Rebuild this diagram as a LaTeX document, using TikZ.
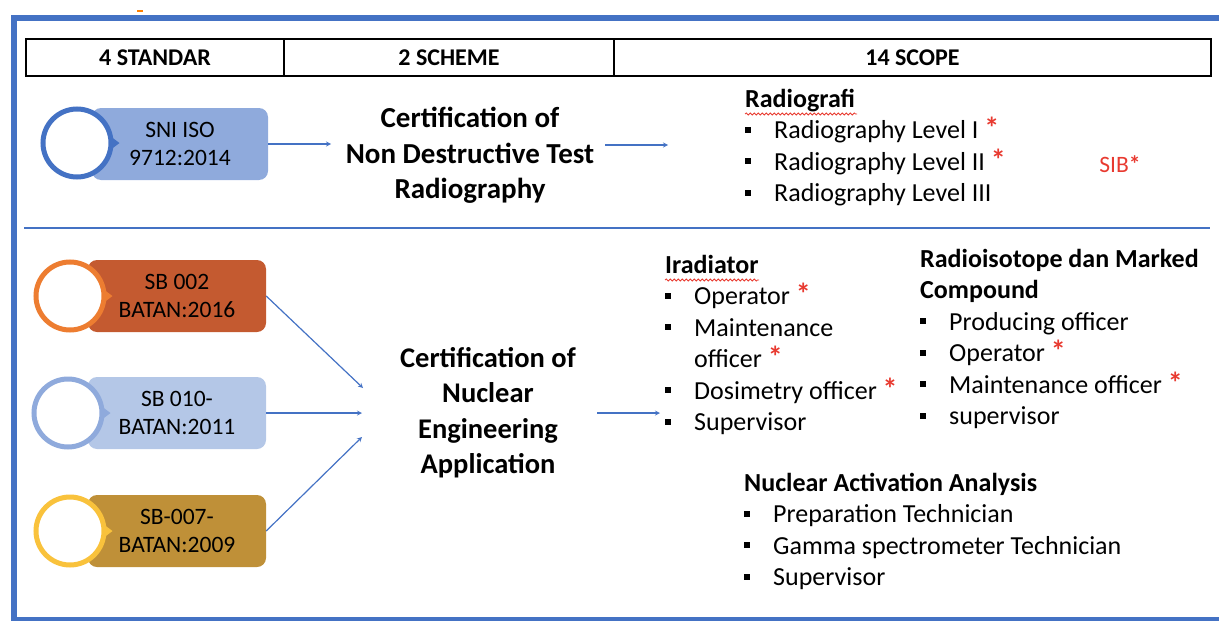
\documentclass[tikz,border=0pt]{standalone}
\usepackage{fontspec}
\setmainfont{Carlito}
\usetikzlibrary{shapes.geometric, arrows, calc, positioning, decorations.pathmorphing}
\definecolor{frameblue}{HTML}{4472C4}
\definecolor{snifill}{HTML}{8FAADC}
\definecolor{sbofill}{HTML}{C45A30}
\definecolor{sboring}{HTML}{ED7D31}
\definecolor{sblfill}{HTML}{B4C7E7}
\definecolor{sblring}{HTML}{8FAADC}
\definecolor{sbgfill}{HTML}{BF9038}
\definecolor{sbgring}{HTML}{F9C23C}
\definecolor{astred}{HTML}{E83A30}
\tikzstyle{hcell} = [rectangle, draw=black, line width=1.6pt, minimum height=37pt, font=\fontsize{24}{28}\selectfont\bfseries]
\tikzstyle{stdbox} = [rectangle, rounded corners=9pt, minimum width=178pt, minimum height=72pt, align=center, font=\fontsize{23.5}{27.5}\selectfont]
\tikzstyle{ring} = [circle, minimum size=68pt, line width=5pt, fill=white, inner sep=0pt]
\tikzstyle{scheme} = [align=center, font=\fontsize{28.5}{35.5}\selectfont\bfseries]
\tikzstyle{scope} = [align=left, inner sep=0pt, anchor=north west, font=\fontsize{26}{31.5}\selectfont]
\tikzstyle{arrow} = [line width=1.2pt, ->, >=stealth, draw=frameblue]
\tikzstyle{wavy} = [astred, line width=0.8pt, decorate, decoration={snake, amplitude=1pt, segment length=4pt}]
\newcommand{\bl}{\makebox[29pt][l]{\rule[6pt]{6pt}{6pt}}}
\newcommand{\rst}{\textcolor{astred}{\fontsize{30}{30}\selectfont\bfseries *}}

\begin{document}
\begin{tikzpicture}[x=1pt, y=-1pt]
    \useasboundingbox (0,0) rectangle (1219,621);
    % frame
    \draw[frameblue, line width=6pt] (1219,18) -- (14,18) -- (14,620) -- (1219,620);
    \draw[orange, line width=2pt] (137,11) -- (143,11);
    \draw[frameblue, line width=1.5pt] (24,228) -- (1210,228);

    % header
    \node (hstd) [hcell, minimum width=258pt] at (155,57.5) {4 STANDAR};
    \node (hsch) [hcell, minimum width=330pt] at (449,57.5) {2 SCHEME};
    \node (hscp) [hcell, minimum width=597pt] at (912.5,57.5) {14 SCOPE};

    % standar
    \node (sni) [stdbox, fill=snifill, minimum width=176pt] at (180,144) {SNI ISO\\9712:2014};
    \node (snicirc) [ring, draw=frameblue] at (77,143) {};
    \fill[frameblue] ([xshift=-2pt,yshift=6pt]snicirc.east) -- ++(8,6) -- ++(-8,6) -- cycle;

    \node (sb002) [stdbox, fill=sbofill] at (177,296) {SB 002\\BATAN:2016};
    \node (sb002circ) [ring, draw=sboring] at (70,296) {};
    \fill[sboring] ([xshift=-2pt,yshift=6pt]sb002circ.east) -- ++(8,6) -- ++(-8,6) -- cycle;

    \node (sb010) [stdbox, fill=sblfill] at (177,413) {SB 010-\\BATAN:2011};
    \node (sb010circ) [ring, draw=sblring] at (68,413) {};
    \fill[sblring] ([xshift=-2pt,yshift=6pt]sb010circ.east) -- ++(8,6) -- ++(-8,6) -- cycle;

    \node (sb007) [stdbox, fill=sbgfill] at (177,531) {SB-007-\\BATAN:2009};
    \node (sb007circ) [ring, draw=sbgring] at (70,531) {};
    \fill[sbgring] ([xshift=-2pt,yshift=6pt]sb007circ.east) -- ++(8,6) -- ++(-8,6) -- cycle;

    % scheme
    \node (ndt) [scheme, font=\fontsize{29}{35.5}\selectfont\bfseries] at (470,155.5) {Certification of\\Non Destructive Test\\Radiography};
    \node (nea) [scheme] at (488,412.5) {Certification of\\Nuclear\\Engineering\\Application};

    % scope
    \node (radio) [scope] at (745,89) {{\bfseries Radiografi}\\\bl Radiography Level I \rst\\\bl Radiography Level II \rst\\\bl Radiography Level III};
    \node (sib) [font=\fontsize{23.5}{28}\selectfont, text=astred] at (1120,164) {SIB{\bfseries *}};
    \node (irad) [scope] at (665,255) {{\bfseries Iradiator}\\\bl Operator \rst\\\bl Maintenance\\\hspace*{29pt}officer \rst\\\bl Dosimetry officer \rst\\\bl Supervisor};
    \node (rmc) [scope] at (920,249) {{\bfseries Radioisotope dan Marked}\\{\bfseries Compound}\\\bl Producing officer\\\bl Operator \rst\\\bl Maintenance officer \rst\\\bl supervisor};
    \node (naa) [scope] at (744,473) {{\bfseries Nuclear Activation Analysis}\\\bl Preparation Technician\\\bl Gamma spectrometer Technician\\\bl Supervisor};
    \draw[wavy] (745,114) -- (857,114);
    \draw[wavy] (665,280) -- (759,280);

    % arrows
    \coordinate (tip1) at (331,144);
    \coordinate (tail2) at (605,145);
    \coordinate (tip2) at (668,145);
    \coordinate (merge1) at (363,388);
    \coordinate (merge2) at (362,413);
    \coordinate (merge3) at (362,437);
    \coordinate (tail4) at (597,413);
    \coordinate (tip4) at (660,413);
    \draw [arrow] (sni.east) -- (tip1);
    \draw [arrow] (tail2) -- (tip2);
    \draw [arrow] (sb002.east) -- (merge1);
    \draw [arrow] (sb010.east) -- (merge2);
    \draw [arrow] (sb007.east) -- (merge3);
    \draw [arrow] (tail4) -- (tip4); %verso scope
\end{tikzpicture}
\end{document}
